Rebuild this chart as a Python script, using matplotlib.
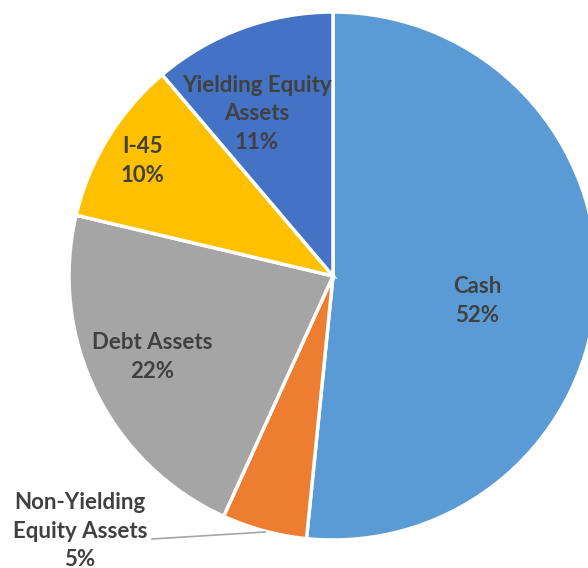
import matplotlib.pyplot as plt

# Data
categories = ["Cash", "Non-Yielding\nEquity Assets", "Debt Assets", "I-45", "Yielding Equity\nAssets"]
shares = [51.6, 5.2, 21.9, 10.1, 11.2]
colors = ["#5B9BD5", "#ED7D31", "#A5A5A5", "#FFC000", "#4472C4"]
explode = [0, 0.012, 0, 0, 0]

plt.rcParams['font.family'] = ['Lato', 'DejaVu Sans']

fig = plt.figure(figsize=(5.88, 5.68), dpi=100)
ax = fig.add_axes([0, 0, 1, 1])

# pie centre / radius in pixel-like coords (y up)
cx, cy, r = 333, 292, 264
ax.pie(shares, colors=colors, startangle=90, counterclock=False, explode=explode,
       center=(cx, cy), radius=r, frame=True,
       wedgeprops=dict(edgecolor='white', linewidth=2.5))
ax.set_xlim(0, 588)
ax.set_ylim(0, 568)
ax.set_aspect('equal')
ax.axis('off')

# label positions (x, y from top)
label_pos = [(477, 301), (80, 531), (152, 357), (142, 161), (257, 114)]
txt_color = '#404040'
for cat, val, (x, y) in zip(categories, shares, label_pos):
    ax.text(x, 568 - y, f"{cat}\n{val:.0f}%", ha='center', va='center',
            fontsize=16, fontweight='bold', color=txt_color, linespacing=1.45)

# leader line for small slice
ax.plot([152, 265], [568 - 539, 568 - 532], color='#A6A6A6', lw=1.2)

fig.savefig('out.png', dpi=100)
